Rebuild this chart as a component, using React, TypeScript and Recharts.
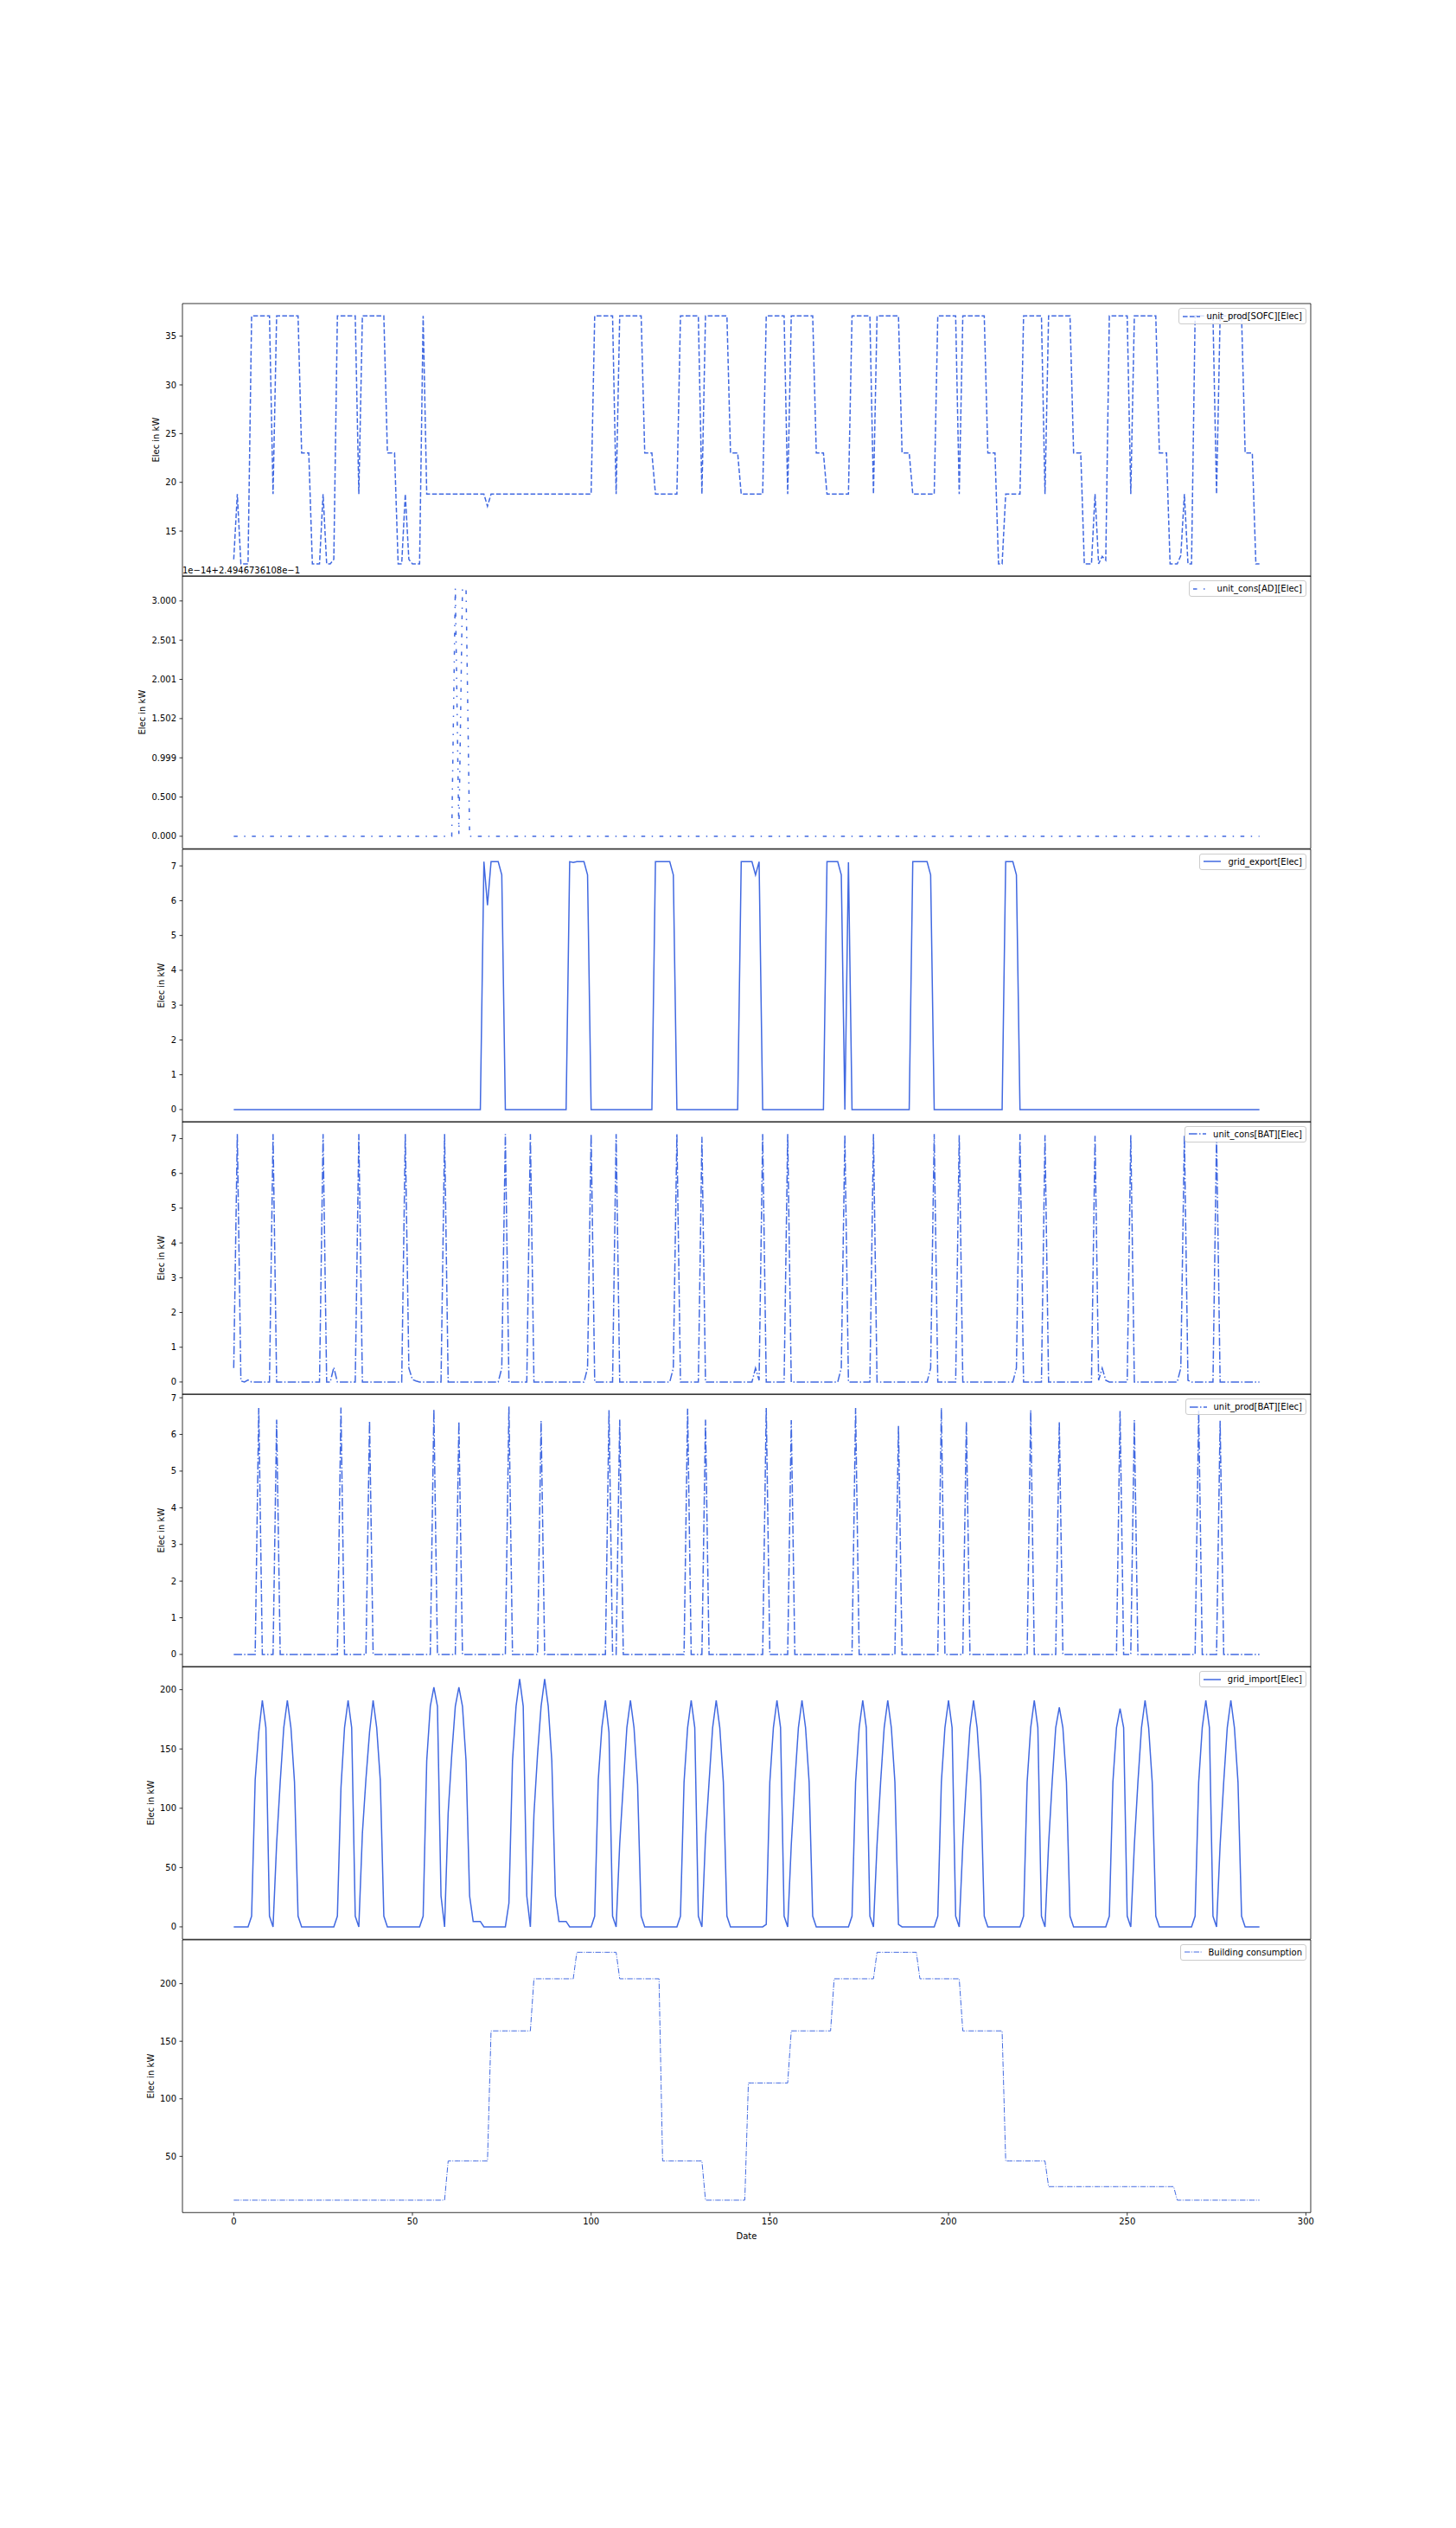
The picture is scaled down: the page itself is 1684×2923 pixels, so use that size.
import React from 'react';
import { LineChart, Line, XAxis, YAxis, ReferenceArea } from 'recharts';

// ---------------- DATA ----------------
type Run = [number, number]; // [value, number of consecutive samples]

const SOFC_RUNS: Run[] = [
  [12.1, 1], [18.8, 1], [11.64, 3], [37.07, 6], [18.8, 1], [37.07, 7], [23.02, 3], [11.64, 3],
  [18.8, 1], [11.64, 2], [12.1, 1], [37.07, 6], [18.8, 1], [37.07, 7], [23.02, 3], [11.64, 2],
  [18.8, 1], [12.1, 1], [11.64, 3], [37.07, 1], [18.8, 17], [17.54, 1], [18.8, 29],
  [37.07, 6], [18.8, 1], [37.07, 7], [23.02, 3], [18.8, 7],
  [37.07, 6], [18.8, 1], [37.07, 7], [23.02, 3], [18.8, 7],
  [37.07, 6], [18.8, 1], [37.07, 7], [23.02, 3], [18.8, 7],
  [37.07, 6], [18.8, 1], [37.07, 7], [23.02, 3], [18.8, 7],
  [37.07, 6], [18.8, 1], [37.07, 7], [23.02, 3], [11.64, 2], [18.8, 5],
  [37.07, 6], [18.8, 1], [37.07, 7], [23.02, 3], [11.64, 3], [18.8, 1], [11.64, 1], [12.4, 1], [12.0, 1],
  [37.07, 6], [18.8, 1], [37.07, 7], [23.02, 3], [11.64, 3], [12.5, 1], [18.8, 1], [11.64, 2],
  [37.07, 6], [18.8, 1], [37.07, 7], [23.02, 3], [11.64, 2],
];

const AD_RUNS: Run[] = [[0, 62], [3.16, 1], [0.03, 1], [3.16, 2], [0, 222]];
const AD_TICKS = [0, 0.5, 1, 1.5, 2, 2.5, 3];
const AD_TICK_LABELS = ['0.000', '0.500', '0.999', '1.502', '2.001', '2.501', '3.000'];
const AD_OFFSET_TEXT = '1e\u221214+2.4946736108e\u22121';

const EXPORT_RUNS: Run[] = [
  [0, 70], [7.12, 1], [5.87, 1], [7.12, 3], [6.74, 1], [0, 18],
  [7.12, 1], [7.1, 1], [7.12, 3], [6.74, 1], [0, 18],
  [7.12, 5], [6.74, 1], [0, 18],
  [7.12, 4], [6.74, 1], [7.12, 1], [0, 18],
  [7.12, 4], [6.74, 1], [0, 1], [7.1, 1], [0, 17],
  [7.12, 5], [6.74, 1], [0, 20],
  [7.12, 3], [6.74, 1], [0, 68],
];

const BAT_CONS: number[] = [
  0.4, 7.13, 0.03, 0, 0.06, 0, 0, 0, 0, 0, 0, 7.13, 0, 0, 0, 0, 0, 0, 0, 0, 0, 0, 0, 0,
  0, 7.13, 0, 0, 0.42, 0, 0, 0, 0, 0, 0, 7.13, 0, 0, 0, 0, 0, 0, 0, 0, 0, 0, 0, 0,
  7.13, 0.4, 0.07, 0.03, 0, 0, 0, 0, 0, 0, 0, 7.13, 0, 0, 0, 0, 0, 0, 0, 0, 0, 0, 0, 0,
  0, 0, 0, 0.4, 7.13, 0, 0, 0, 0, 0, 0, 7.13, 0, 0, 0, 0, 0, 0, 0, 0, 0, 0, 0, 0,
  0, 0, 0, 0.4, 7.13, 0, 0, 0, 0, 0, 0, 7.13, 0, 0, 0, 0, 0, 0, 0, 0, 0, 0, 0, 0,
  0, 0, 0, 0.4, 7.13, 0, 0, 0, 0, 0, 0, 7.05, 0, 0, 0, 0, 0, 0, 0, 0, 0, 0, 0, 0,
  0, 0, 0.4, 0.05, 7.13, 0, 0, 0, 0, 0, 0, 7.13, 0, 0, 0, 0, 0, 0, 0, 0, 0, 0, 0, 0,
  0, 0, 0.4, 7.1, 0, 0, 0, 0, 0, 0, 0, 7.13, 0, 0, 0, 0, 0, 0, 0, 0, 0, 0, 0, 0,
  0, 0, 0, 0.4, 7.13, 0, 0, 0, 0, 0, 0, 7.1, 0, 0, 0, 0, 0, 0, 0, 0, 0, 0, 0, 0,
  0, 0, 0, 0.4, 7.13, 0, 0, 0, 0, 0, 0, 7.1, 0, 0, 0, 0, 0, 0, 0, 0, 0, 0, 0, 0,
  0, 7.08, 0.05, 0.4, 0.05, 0, 0, 0, 0, 0, 0, 7.1, 0, 0, 0, 0, 0, 0, 0, 0, 0, 0, 0, 0,
  0, 0.4, 7.1, 0.05, 0, 0, 0, 0, 0, 0, 0, 7.1, 0, 0, 0, 0, 0, 0, 0, 0, 0, 0, 0, 0,
];

const BAT_PROD: number[] = [
  0, 0, 0, 0, 0, 0, 0, 6.72, 0, 0, 0, 0, 6.4, 0, 0, 0, 0, 0, 0, 0, 0, 0, 0, 0,
  0, 0, 0, 0, 0, 0, 6.73, 0, 0, 0, 0, 0, 0, 0, 6.37, 0, 0, 0, 0, 0, 0, 0, 0, 0,
  0, 0, 0, 0, 0, 0, 0, 0, 6.68, 0, 0, 0, 0, 0, 0, 6.35, 0, 0, 0, 0, 0, 0, 0, 0,
  0, 0, 0, 0, 0, 6.76, 0, 0, 0, 0, 0, 0, 0, 0, 6.37, 0, 0, 0, 0, 0, 0, 0, 0, 0,
  0, 0, 0, 0, 0, 0, 0, 0, 0, 6.66, 0, 0, 6.4, 0, 0, 0, 0, 0, 0, 0, 0, 0, 0, 0,
  0, 0, 0, 0, 0, 0, 0, 6.7, 0, 0, 0, 0, 6.4, 0, 0, 0, 0, 0, 0, 0, 0, 0, 0, 0,
  0, 0, 0, 0, 0, 6.72, 0, 0, 0, 0, 0, 0, 6.39, 0, 0, 0, 0, 0, 0, 0, 0, 0, 0, 0,
  0, 0, 0, 0, 0, 0, 6.72, 0, 0, 0, 0, 0, 0, 0, 0, 0, 0, 0, 6.23, 0, 0, 0, 0, 0,
  0, 0, 0, 0, 0, 0, 6.72, 0, 0, 0, 0, 0, 0, 6.35, 0, 0, 0, 0, 0, 0, 0, 0, 0, 0,
  0, 0, 0, 0, 0, 0, 0, 6.66, 0, 0, 0, 0, 0, 0, 0, 6.34, 0, 0, 0, 0, 0, 0, 0, 0,
  0, 0, 0, 0, 0, 0, 0, 0, 6.64, 0, 0, 0, 6.39, 0, 0, 0, 0, 0, 0, 0, 0, 0, 0, 0,
  0, 0, 0, 0, 0, 0, 6.66, 0, 0, 0, 0, 0, 6.37, 0, 0, 0, 0, 0, 0, 0, 0, 0, 0, 0,
];

const GRID_IMPORT: number[] = [
  0, 0, 0, 0, 0, 9, 124, 164, 191, 168, 9, 0, 70, 122, 168, 191, 168, 122, 9, 0, 0, 0, 0, 0,
  0, 0, 0, 0, 0, 9, 117, 168, 191, 168, 9, 0, 79, 125, 164, 191, 168, 124, 9, 0, 0, 0, 0, 0,
  0, 0, 0, 0, 0, 9, 140, 186, 202, 186, 26, 0, 96, 145, 186, 202, 186, 140, 26, 4.6, 4.6, 4.6, 0, 0,
  0, 0, 0, 0, 0, 20, 140, 186, 209, 186, 26, 0, 95, 145, 186, 209, 186, 140, 26, 4.6, 4.6, 4.6, 0, 0,
  0, 0, 0, 0, 0, 9, 124, 168, 191, 164, 9, 0, 70, 120, 168, 191, 168, 120, 9, 0, 0, 0, 0, 0,
  0, 0, 0, 0, 0, 9, 122, 168, 191, 168, 9, 0, 75, 122, 168, 191, 168, 122, 9, 0, 0, 0, 0, 0,
  0, 0, 0, 0, 0, 2, 122, 168, 191, 168, 9, 0, 69, 122, 168, 191, 168, 122, 9, 0, 0, 0, 0, 0,
  0, 0, 0, 0, 0, 9, 122, 168, 191, 168, 9, 0, 69, 122, 168, 191, 168, 122, 2, 0, 0, 0, 0, 0,
  0, 0, 0, 0, 0, 9, 122, 168, 191, 168, 9, 0, 69, 122, 168, 191, 168, 122, 9, 0, 0, 0, 0, 0,
  0, 0, 0, 0, 0, 9, 122, 168, 191, 168, 9, 0, 69, 122, 168, 185, 168, 122, 9, 0, 0, 0, 0, 0,
  0, 0, 0, 0, 0, 9, 122, 168, 184, 168, 9, 0, 69, 122, 168, 191, 168, 122, 9, 0, 0, 0, 0, 0,
  0, 0, 0, 0, 0, 9, 122, 168, 191, 168, 9, 0, 69, 122, 168, 191, 168, 122, 9, 0, 0, 0, 0, 0,
];

const BUILDING_RUNS: Run[] = [
  [12, 60], [46, 12], [159, 12], [204.25, 12], [227.25, 12], [204.25, 12], [46, 12], [12, 12],
  [113.75, 12], [159, 12], [204.25, 12], [227.25, 12], [204.25, 12], [159, 12], [46, 12],
  [23.75, 36], [12, 24],
];

const X_TICKS = [0, 50, 100, 150, 200, 250, 300];
const Y_LABEL = 'Elec in kW';
const X_LABEL = 'Date';

// ---------------- helpers ----------------
const fromRuns = (runs: Run[]) => runs.flatMap(([v, n]) => Array.from({ length: n }, () => v));

const SOFC = fromRuns(SOFC_RUNS);
const AD = fromRuns(AD_RUNS);
const GRID_EXPORT = fromRuns(EXPORT_RUNS);
const BUILDING = fromRuns(BUILDING_RUNS);

const DATA = SOFC.map((v, i) => ({
  x: i,
  sofc: v,
  ad: AD[i],
  exp: GRID_EXPORT[i],
  bcons: BAT_CONS[i],
  bprod: BAT_PROD[i],
  imp: GRID_IMPORT[i],
  bld: BUILDING[i],
}));

// ---------------- layout ----------------
const W = 1684;
const AX_LEFT = 211;
const AX_RIGHT = 1516;
const TOP0 = 351;
const PANEL_H = 315.28;
const PAD = 20;
const BLUE = '#4169e1';
const FONT = 'DejaVu Sans';
const N = DATA.length;
const X_DOMAIN: [number, number] = [-(N - 1) * 0.05, (N - 1) * 1.05];

type PanelDef = {
  key: string;
  name: string;
  values: number[];
  dash?: string;
  width: number;
  ticks: number[];
  tickLabels?: string[];
  labelX: number;
};

const PANELS: PanelDef[] = [
  { key: 'sofc', name: 'unit_prod[SOFC][Elec]', values: SOFC, dash: '5.55 2.4', width: 1.5, ticks: [15, 20, 25, 30, 35], labelX: 180.5 },
  { key: 'ad', name: 'unit_cons[AD][Elec]', values: AD, dash: '4.5 7.5 1.5 7.5', width: 1.5, ticks: AD_TICKS, tickLabels: AD_TICK_LABELS, labelX: 164.5 },
  { key: 'exp', name: 'grid_export[Elec]', values: GRID_EXPORT, width: 1.5, ticks: [0, 1, 2, 3, 4, 5, 6, 7], labelX: 186.5 },
  { key: 'bcons', name: 'unit_cons[BAT][Elec]', values: BAT_CONS, dash: '9.6 2.4 1.5 2.4', width: 1.5, ticks: [0, 1, 2, 3, 4, 5, 6, 7], labelX: 186.5 },
  { key: 'bprod', name: 'unit_prod[BAT][Elec]', values: BAT_PROD, dash: '9.6 2.4 1.5 2.4', width: 1.5, ticks: [0, 1, 2, 3, 4, 5, 6, 7], labelX: 186.5 },
  { key: 'imp', name: 'grid_import[Elec]', values: GRID_IMPORT, width: 1.5, ticks: [0, 50, 100, 150, 200], labelX: 174 },
  { key: 'bld', name: 'Building consumption', values: BUILDING, dash: '6.4 1.6 1 1.6', width: 1, ticks: [50, 100, 150, 200], labelX: 174 },
];

function Panel({ p, i }: { p: PanelDef; i: number }) {
  const last = i === PANELS.length - 1;
  const top = TOP0 + i * PANEL_H;
  const xAxisH = last ? 45 : 0;
  const height = PANEL_H + 2 * PAD + xAxisH;
  const mn = Math.min(...p.values);
  const mx = Math.max(...p.values);
  const m = (mx - mn) * 0.05;
  const dom: [number, number] = [mn - m, mx + m];
  const fmt = (v: number) => {
    if (p.tickLabels) {
      const k = p.ticks.indexOf(v);
      return k >= 0 ? p.tickLabels[k] : String(v);
    }
    return String(v);
  };
  const yLabel = () => (
    <text
      x={p.labelX}
      y={PAD + PANEL_H / 2}
      transform={`rotate(-90 ${p.labelX} ${PAD + PANEL_H / 2})`}
      textAnchor="middle"
      dominantBaseline="central"
      fontSize={10}
      fontFamily={FONT}
      fill="#000"
    >
      {Y_LABEL}
    </text>
  );
  const xLabel = () => (
    <text
      x={(AX_LEFT + AX_RIGHT) / 2}
      y={PAD + PANEL_H + 31}
      textAnchor="middle"
      fontSize={10}
      fontFamily={FONT}
      fill="#000"
    >
      {X_LABEL}
    </text>
  );
  return (
    <div style={{ position: 'absolute', left: 0, top: top - PAD }}>
      <LineChart
        width={W}
        height={height}
        data={DATA}
        margin={{ top: PAD, right: W - AX_RIGHT, bottom: PAD, left: 0 }}
      >
        <XAxis
          dataKey="x"
          type="number"
          domain={X_DOMAIN}
          ticks={X_TICKS}
          allowDataOverflow
          hide={!last}
          height={last ? xAxisH : undefined}
          interval={0}
          tickSize={3.5}
          tickMargin={3.5}
          axisLine={false}
          tickLine={{ stroke: '#000', strokeWidth: 0.8 }}
          tick={{ fontSize: 10, fill: '#000', fontFamily: FONT }}
          label={last ? xLabel : undefined}
        />
        <YAxis
          type="number"
          domain={dom}
          ticks={p.ticks}
          allowDataOverflow
          width={AX_LEFT}
          interval={0}
          tickSize={3.5}
          tickMargin={3.5}
          axisLine={false}
          tickLine={{ stroke: '#000', strokeWidth: 0.8 }}
          tick={{ fontSize: 10, fill: '#000', fontFamily: FONT }}
          tickFormatter={fmt}
          label={yLabel}
        />
        <Line
          type="linear"
          dataKey={p.key}
          stroke={BLUE}
          strokeWidth={p.width}
          strokeDasharray={p.dash}
          dot={false}
          activeDot={false}
          isAnimationActive={false}
        />
        <ReferenceArea
          x1={X_DOMAIN[0]}
          x2={X_DOMAIN[1]}
          y1={dom[0]}
          y2={dom[1]}
          fill="none"
          fillOpacity={0}
          stroke="#000"
          strokeWidth={0.8}
          ifOverflow="visible"
        />
      </LineChart>
    </div>
  );
}

function LegendBox({ p, i }: { p: PanelDef; i: number }) {
  const top = TOP0 + i * PANEL_H + 5;
  return (
    <div
      style={{
        position: 'absolute',
        right: W - AX_RIGHT + 5,
        top,
        background: 'rgba(255,255,255,0.8)',
        border: '1px solid #cccccc',
        borderRadius: 3,
        padding: '3px 4px',
        display: 'flex',
        alignItems: 'center',
        fontFamily: FONT,
        fontSize: 10,
        lineHeight: '11px',
        color: '#000',
        whiteSpace: 'nowrap',
      }}
    >
      <svg width={20} height={8} style={{ marginRight: 8, display: 'block' }}>
        <line x1={0} x2={20} y1={4} y2={4} stroke={BLUE} strokeWidth={p.width} strokeDasharray={p.dash} />
      </svg>
      <span>{p.name}</span>
    </div>
  );
}

export default function App() {
  return (
    <div
      style={{
        position: 'absolute',
        left: 0,
        top: 0,
        width: W,
        height: 2923,
        background: '#fff',
        overflow: 'hidden',
      }}
    >
      {PANELS.map((p, i) => (
        <Panel key={p.key} p={p} i={i} />
      ))}
      <svg
        width={W}
        height={2923}
        style={{ position: 'absolute', left: 0, top: 0, pointerEvents: 'none' }}
      >
        <text x={AX_LEFT} y={TOP0 + PANEL_H - 3} fontSize={10} fontFamily={FONT} fill="#000">
          {AD_OFFSET_TEXT}
        </text>
      </svg>
      {PANELS.map((p, i) => (
        <LegendBox key={p.key + '-lg'} p={p} i={i} />
      ))}
    </div>
  );
}
